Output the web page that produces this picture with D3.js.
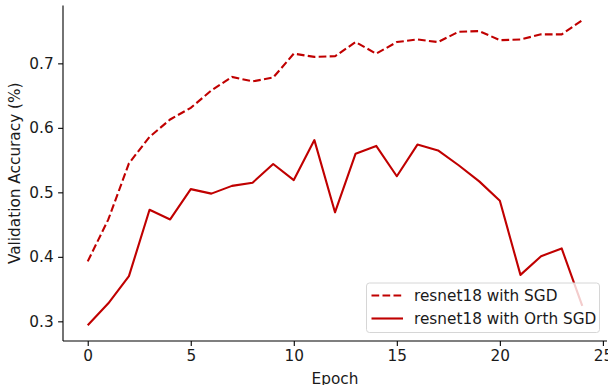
<!DOCTYPE html>
<html>
<head>
<meta charset="utf-8">
<title>Validation accuracy</title>
<script src="https://d3js.org/d3.v7.min.js"></script>
<style>
	body { margin: 0; background: #fff; }
	text { font-family: "DejaVu Sans", sans-serif; fill: #1a1a1a; }
</style>
</head>
<body>
<script>

// values
var epochs = d3.range(0, 25);
var sgd = [0.393, 0.458, 0.545, 0.586, 0.613, 0.631, 0.658, 0.679, 0.672, 0.678,
	0.715, 0.710, 0.711, 0.733, 0.715, 0.733, 0.737, 0.733, 0.749, 0.750,
	0.736, 0.737, 0.745, 0.745, 0.767];
var orthSgd = [0.294, 0.328, 0.370, 0.473, 0.458, 0.505, 0.498, 0.510, 0.515, 0.544,
	0.519, 0.581, 0.469, 0.560, 0.572, 0.525, 0.574, 0.565, 0.542, 0.517,
	0.487, 0.372, 0.401, 0.413, 0.324];
var xTicks = [0, 5, 10, 15, 20, 25];
var yTicks = [0.3, 0.4, 0.5, 0.6, 0.7];
var seriesNames = ["resnet18 with SGD", "resnet18 with Orth SGD"];

var W = 608, H = 385;
var mLeft = 63, mRight = 607, mTop = 5.5, mBottom = 341;
var color = "#c00000";
var fs = "15.3px";

var svg = d3.select("body").append("svg")
	.attr("width", W)
	.attr("height", H);

var x = d3.scaleLinear().domain([-1.2, 25.2]).range([mLeft, mRight]);
var y = d3.scaleLinear().domain([0.2695, 0.7897]).range([mBottom, mTop]);

var line = d3.line()
	.x(function(d, i){ return x(epochs[i]); })
	.y(function(d){ return y(d); });

svg.append("path")
	.attr("d", line(sgd))
	.attr("fill", "none")
	.attr("stroke", color)
	.attr("stroke-width", 2.1)
	.attr("stroke-dasharray", "7.7,3.3");

svg.append("path")
	.attr("d", line(orthSgd))
	.attr("fill", "none")
	.attr("stroke", color)
	.attr("stroke-width", 2.1)
	.attr("stroke-linejoin", "round");

// axes
var xAxis = svg.append("g")
	.attr("transform", "translate(0," + mBottom + ")")
	.call(d3.axisBottom(x).tickValues(xTicks).tickSize(4.9).tickPadding(4.5).tickFormat(d3.format("d")));
var yAxis = svg.append("g")
	.attr("transform", "translate(" + mLeft + ",0)")
	.call(d3.axisLeft(y).tickValues(yTicks).tickSize(4.9).tickPadding(4.5).tickFormat(d3.format(".1f")));

[xAxis, yAxis].forEach(function(a){
	a.select(".domain").attr("stroke", "#000").attr("stroke-width", 1.1);
	a.selectAll(".tick line").attr("stroke", "#000").attr("stroke-width", 1.1);
	a.selectAll("text").style("font-size", fs).attr("font-family", "DejaVu Sans").attr("fill", "#1a1a1a");
});
xAxis.select(".domain").attr("d", "M" + mLeft + ",0H" + mRight);
yAxis.select(".domain").attr("d", "M0," + mTop + "V" + mBottom);

svg.append("text")
	.attr("x", (mLeft + mRight) / 2)
	.attr("y", 383.5)
	.attr("text-anchor", "middle")
	.style("font-size", fs)
	.text("Epoch");

svg.append("text")
	.attr("transform", "translate(20," + (mTop + mBottom) / 2 + ") rotate(-90)")
	.attr("text-anchor", "middle")
	.style("font-size", fs)
	.text("Validation Accuracy (%)");

// legend
var legend = svg.append("g");
legend.append("rect")
	.attr("x", 366.5).attr("y", 283)
	.attr("width", 233).attr("height", 49.5)
	.attr("rx", 3)
	.attr("fill", "rgba(255,255,255,0.8)")
	.attr("stroke", "#d6d6d6")
	.attr("stroke-width", 1);

var rows = legend.selectAll(".row").data(seriesNames).enter().append("g")
	.attr("transform", function(d, i){ return "translate(0," + (295.5 + i * 23) + ")"; });
rows.append("line")
	.attr("x1", 371.5).attr("x2", 403)
	.attr("stroke", color)
	.attr("stroke-width", 2.1)
	.attr("stroke-dasharray", function(d, i){ return i === 0 ? "7.7,3.3" : null; });
rows.append("text")
	.attr("x", 414)
	.attr("dy", "0.36em")
	.style("font-size", fs)
	.text(function(d){ return d; });

</script>
</body>
</html>
